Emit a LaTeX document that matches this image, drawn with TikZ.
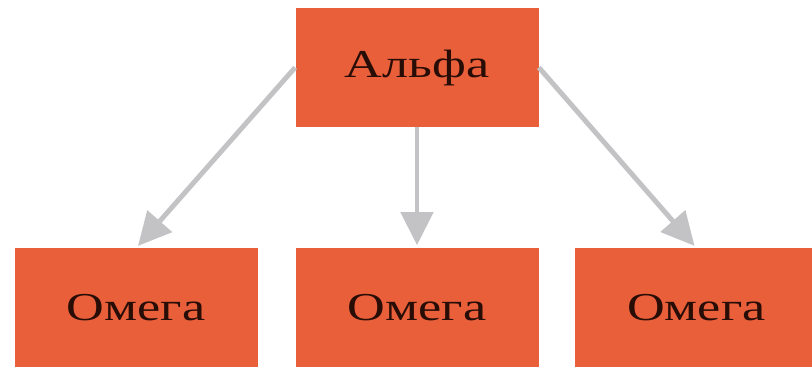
\documentclass[tikz,border=0pt]{standalone}
\usepackage{fontspec}
\newfontfamily\boxfont[FakeStretch=1.32]{Liberation Serif}
\usetikzlibrary{arrows.meta}

\definecolor{boxred}{RGB}{232,95,58}
\definecolor{boxtext}{RGB}{40,12,6}
\definecolor{linkgray}{RGB}{195,195,197}

\tikzset{
    box/.style={fill=boxred, text=boxtext, minimum width=4.86cm, minimum height=2.38cm,
        inner sep=0pt, font=\boxfont\fontsize{22.5}{25}\selectfont},
    link/.style={draw=linkgray, line width=2.8pt, shorten >=0.06cm,
        -{Triangle[length=0.66cm,width=0.64cm]}}
}

\begin{document}
\begin{tikzpicture}
        \useasboundingbox[fill=white] (0,0) rectangle (16.24,7.36);
        \node[box] (Alpha) at (8.34, 6.01) {Альфа};
        \node[box] (OmegaLeft) at (2.72, 1.2) {Омега};
        \node[box] (OmegaMid) at (8.34, 1.2) {Омега};
        \node[box] (OmegaRight) at (13.93, 1.2) {Омега};

        \draw[link] (Alpha.west) to (OmegaLeft.north);
        \draw[link] (Alpha.south) to (OmegaMid.north);
        \draw[link] (Alpha.east) to (OmegaRight.north);

    \end{tikzpicture}
\end{document}
